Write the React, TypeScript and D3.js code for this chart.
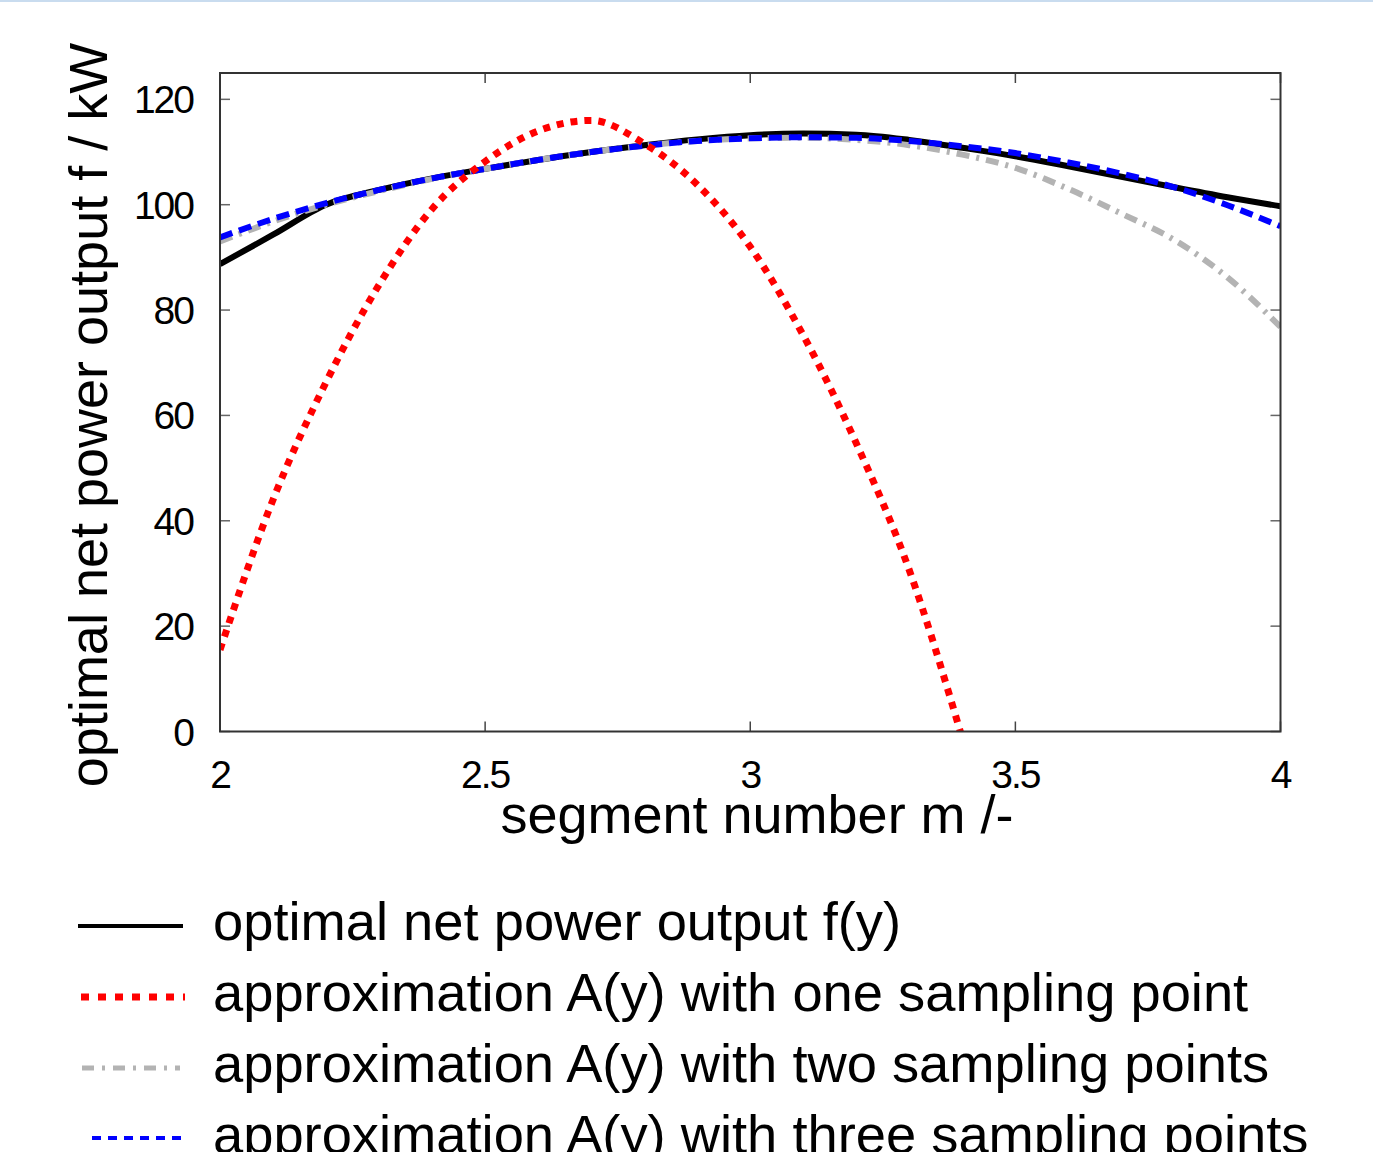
import React from "react";
import * as d3 from "d3";

const mValues = [2.0, 2.1, 2.2, 2.3, 2.4, 2.5, 2.6, 2.7, 2.8, 2.9, 3.0, 3.1, 3.2, 3.3, 3.4, 3.5, 3.6, 3.7, 3.8, 3.9, 4.0];
const optimalF = [88.7, 94.3, 100.0, 102.8, 105.0, 106.8, 108.5, 110.0, 111.3, 112.4, 113.2, 113.5, 113.3, 112.3, 110.8, 109.2, 107.3, 105.3, 103.3, 101.4, 99.7];
const approxOne = [15.5, 44.0, 66.3, 84.8, 99.2, 108.2, 114.0, 116.0, 111.6, 103.8, 92.0, 75.2, 54.7, 30.6, -1.3];
const approxTwo = [93.0, 96.8, 100.0, 102.6, 104.9, 106.8, 108.5, 110.0, 111.2, 112.1, 112.6, 112.7, 112.3, 111.3, 109.5, 107.0, 103.0, 98.3, 93.3, 86.2, 76.8];
const approxThree = [93.8, 97.3, 100.3, 102.8, 105.0, 106.8, 108.5, 110.0, 111.2, 112.1, 112.6, 112.8, 112.7, 112.1, 111.1, 109.8, 108.0, 105.9, 103.3, 99.9, 95.9];

const xTicks = [2, 2.5, 3, 3.5, 4];
const yTicks = [0, 20, 40, 60, 80, 100, 120];
const legendLabels = [
  "optimal net power output f(y)",
  "approximation A(y) with one sampling point",
  "approximation A(y) with two sampling points",
  "approximation A(y) with three sampling points",
];

const FONT = "'Liberation Sans', Arial, sans-serif";

export default function App() {
  const x = d3.scaleLinear().domain([2, 4]).range([220, 1280.5]);
  const y = d3.scaleLinear().domain([0, 125]).range([731.5, 73]);
  const line = d3
    .line<[number, number]>()
    .x((d) => x(d[0]))
    .y((d) => y(d[1]))
    .curve(d3.curveMonotoneX);
  const pts = (vals: number[]) => vals.map((v, i) => [mValues[i], v] as [number, number]);

  const series = [
    { vals: optimalF, stroke: "#000", dash: undefined, w: 6, lw: 4, ldash: undefined },
    { vals: approxTwo, stroke: "#b3b3b3", dash: "13,7,3,7", w: 6, lw: 5, ldash: "12,8,3,8" },
    { vals: approxThree, stroke: "#0000ff", dash: "13,7", w: 6, lw: 4, ldash: "9,7" },
    { vals: approxOne, stroke: "#ff0000", dash: "7,7", w: 7, lw: 7, ldash: "8,9" },
  ];
  const legendOrder = [0, 3, 1, 2];
  const legendLines = [
    { x1: 78, x2: 183, y: 926 },
    { x1: 81, x2: 185, y: 997 },
    { x1: 82, x2: 180, y: 1068 },
    { x1: 92, x2: 188, y: 1138 },
  ];

  const x0 = x(2), x1 = x(4), y0 = y(0), y1 = y(125);

  return (
    <svg
      width={1373}
      height={1152}
      style={{ position: "absolute", left: 0, top: 0, background: "#fff" }}
      fontFamily={FONT}
    >
      <rect x={0} y={0} width={1373} height={1152} fill="#fff" />
      <rect x={0} y={0} width={1373} height={2} fill="#c9dcef" />
      <defs>
        <clipPath id="plotclip">
          <rect x={x0} y={y1} width={x1 - x0} height={y0 - y1} />
        </clipPath>
      </defs>

      {/* ticks */}
      {yTicks.map((t) => (
        <g key={"yt" + t}>
          <line x1={x0} x2={x0 + 10} y1={y(t)} y2={y(t)} stroke="#666" strokeWidth={1.5} />
          <line x1={x1 - 10} x2={x1} y1={y(t)} y2={y(t)} stroke="#666" strokeWidth={1.5} />
          <text
            x={193}
            y={y(t)}
            dy="0.36em"
            textAnchor="end"
            fontSize={39}
            letterSpacing={-2}
          >
            {t}
          </text>
        </g>
      ))}
      {xTicks.map((t) => (
        <g key={"xt" + t}>
          <line x1={x(t)} x2={x(t)} y1={y0} y2={y0 - 10} stroke="#444" strokeWidth={1.5} />
          <line x1={x(t)} x2={x(t)} y1={y1} y2={y1 + 10} stroke="#444" strokeWidth={1.5} />
          <text x={x(t)} y={788} textAnchor="middle" fontSize={39} letterSpacing={-2}>
            {t}
          </text>
        </g>
      ))}

      {/* series */}
      <g clipPath="url(#plotclip)">
        {series.map((s, i) => (
          <path
            key={i}
            d={line(pts(s.vals)) || ""}
            fill="none"
            stroke={s.stroke}
            strokeWidth={s.w}
            strokeDasharray={s.dash}
            strokeLinecap="butt"
          />
        ))}
      </g>

      {/* frame */}
      <rect x={x0} y={y1} width={x1 - x0} height={y0 - y1} fill="none" stroke="#333" strokeWidth={2} />

      {/* axis titles */}
      <text x={757} y={833} textAnchor="middle" fontSize={54}>
        segment number m /-
      </text>
      <text transform="translate(107,415) rotate(-90)" textAnchor="middle" fontSize={54}>
        optimal net power output f / kW
      </text>

      {/* legend */}
      {legendOrder.map((si, row) => {
        const s = series[si];
        const ll = legendLines[row];
        return (
          <g key={"lg" + row}>
            <line
              x1={ll.x1}
              x2={ll.x2}
              y1={ll.y}
              y2={ll.y}
              stroke={s.stroke}
              strokeWidth={s.lw}
              strokeDasharray={s.ldash}
            />
            <text x={213} y={940 + row * 71} fontSize={54.3}>
              {legendLabels[row]}
            </text>
          </g>
        );
      })}
    </svg>
  );
}
